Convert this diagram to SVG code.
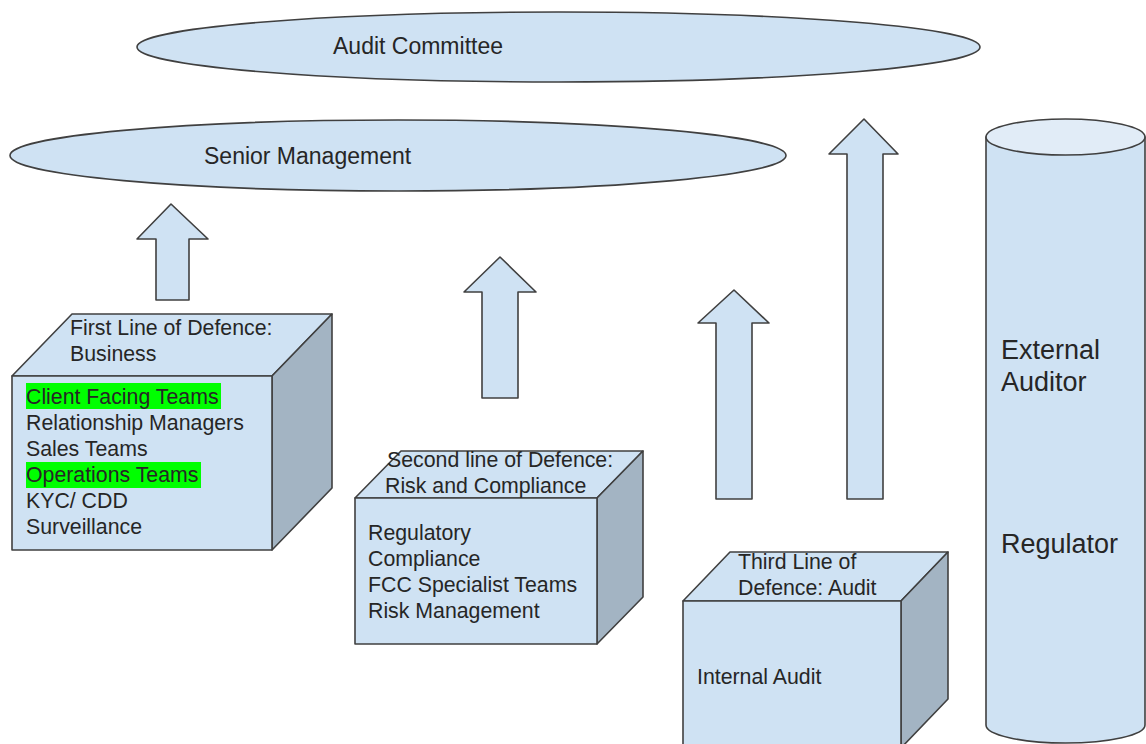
<svg xmlns="http://www.w3.org/2000/svg" width="1146" height="744" viewBox="0 0 1146 744">
  <style>
    .shape { fill: #cfe2f3; stroke: #404040; stroke-width: 1.6; stroke-linejoin: round; }
    .side { fill: #a3b4c3; stroke: #404040; stroke-width: 1.6; stroke-linejoin: round; }
    .lid { fill: #e1ecf7; stroke: #404040; stroke-width: 1.6; }
    .t { font-family: "Liberation Sans", Arial, sans-serif; fill: #262626; font-size: 21.3px; }
    .big { font-size: 23px; }
    .huge { font-size: 27px; }
    .hl { fill: #00ff00; }
  </style>
  <rect width="1146" height="744" fill="#ffffff"/>

  <g id="audit-committee">
    <ellipse class="shape" cx="558.5" cy="47" rx="421.5" ry="35"/>
    <text class="t big" x="333" y="54">Audit Committee</text>
  </g>

  <g id="senior-management">
    <ellipse class="shape" cx="398" cy="155.5" rx="388" ry="35.5"/>
    <text class="t big" x="204" y="164">Senior Management</text>
  </g>

  <g id="connectors">
    <path class="shape" d="M171,204 L208,239 L189,239 L189,300 L156,300 L156,239 L137,239 Z"/>
    <path class="shape" d="M500,257 L536,292 L518,292 L518,398 L482,398 L482,292 L464,292 Z"/>
    <path class="shape" d="M734,290 L769,323 L752,323 L752,499 L716,499 L716,323 L698,323 Z"/>
    <path class="shape" d="M864,119 L898,154 L883,154 L883,499 L847,499 L847,154 L829,154 Z"/>
  </g>

  <g id="first-line">
    <polygon class="shape" points="12,376 72,314 332,314 272,376"/>
    <polygon class="side" points="272,376 332,314 332,488 272,550"/>
    <rect class="shape" x="12" y="376" width="260" height="174"/>
    <text class="t" x="70" y="335">First Line of Defence:</text>
    <text class="t" x="70" y="361">Business</text>
    <rect class="hl" x="26" y="383" width="195" height="26"/>
    <rect class="hl" x="26" y="462" width="175" height="26"/>
    <text class="t" x="26" y="404">Client Facing Teams</text>
    <text class="t" x="26" y="430">Relationship Managers</text>
    <text class="t" x="26" y="456">Sales Teams</text>
    <text class="t" x="26" y="482">Operations Teams</text>
    <text class="t" x="26" y="508">KYC/ CDD</text>
    <text class="t" x="26" y="534">Surveillance</text>
  </g>

  <g id="second-line">
    <polygon class="shape" points="355,498 401,451 643,451 597,498"/>
    <polygon class="side" points="597,498 643,451 643,597 597,644"/>
    <rect class="shape" x="355" y="498" width="242" height="146"/>
    <text class="t" x="387" y="467">Second line of Defence:</text>
    <text class="t" x="385" y="493">Risk and Compliance</text>
    <text class="t" x="368" y="540">Regulatory</text>
    <text class="t" x="368" y="566">Compliance</text>
    <text class="t" x="368" y="592">FCC Specialist Teams</text>
    <text class="t" x="368" y="618">Risk Management</text>
  </g>

  <g id="third-line">
    <polygon class="shape" points="683,601 730,552 948,552 901,601"/>
    <polygon class="side" points="901,601 948,552 948,699 901,748"/>
    <rect class="shape" x="683" y="601" width="218" height="147"/>
    <text class="t" x="738" y="569">Third Line of</text>
    <text class="t" x="738" y="595">Defence: Audit</text>
    <text class="t" x="697" y="684">Internal Audit</text>
  </g>

  <g id="external">
    <path class="shape" d="M986,137 L986,725 A79.5,18 0 0 0 1145,725 L1145,137 Z"/>
    <ellipse class="lid" cx="1065.5" cy="137" rx="79.5" ry="18"/>
    <text class="t huge" x="1001" y="359">External</text>
    <text class="t huge" x="1001" y="391">Auditor</text>
    <text class="t huge" x="1001" y="553">Regulator</text>
  </g>
</svg>
